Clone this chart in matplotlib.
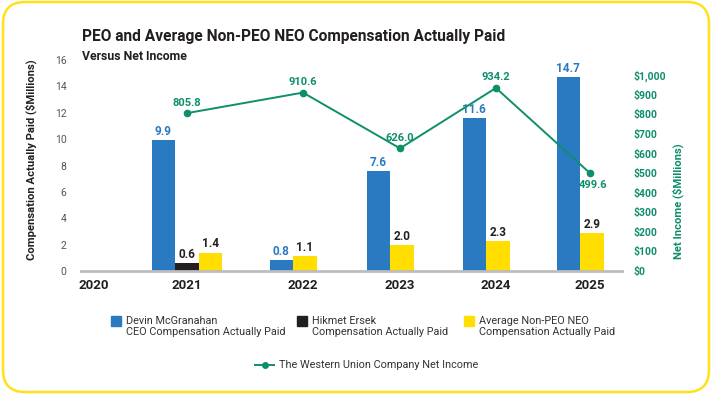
import matplotlib
matplotlib.use('Agg')
import matplotlib.pyplot as plt
from matplotlib.patches import FancyBboxPatch, Rectangle
from matplotlib.lines import Line2D
import numpy as np

# ---------------- data ----------------
years = ['2020', '2021', '2022', '2023', '2024', '2025']
mcgranahan_cap = [np.nan, 9.9, 0.8, 7.6, 11.6, 14.7]
ersek_cap = [np.nan, 0.6, np.nan, np.nan, np.nan, np.nan]
non_peo_avg_cap = [np.nan, 1.4, 1.1, 2.0, 2.3, 2.9]
net_income = [np.nan, 805.8, 910.6, 626.0, 934.2, 499.6]
left_ticks = [0, 2, 4, 6, 8, 10, 12, 14, 16]
right_ticks = [0, 100, 200, 300, 400, 500, 600, 700, 800, 900, 1000]
right_tick_labels = ['$0', '$100', '$200', '$300', '$400', '$500', '$600',
                     '$700', '$800', '$900', '$1,000']
legend_labels = [('Devin McGranahan', 'CEO Compensation Actually Paid'),
                 ('Hikmet Ersek', 'Compensation Actually Paid'),
                 ('Average Non-PEO NEO', 'Compensation Actually Paid')]
line_label = 'The Western Union Company Net Income'

# ---------------- style ----------------
FONT = 'Roboto'
plt.rcParams['font.family'] = [FONT, 'DejaVu Sans']
BLUE = '#2A7AC2'
BLACK = '#231F20'
YELLOW = '#FFDE00'
GREEN = '#0E8E6B'
DARK = '#231F20'
GRAY_TXT = '#555555'
BORDER = '#FFE11B'

fig = plt.figure(figsize=(7.12, 3.95), dpi=100)
W, H = 712, 395

def fx(px):
    return px / W

def fy(py):
    return 1 - py / H

ax = fig.add_axes([fx(81), fy(271), fx(622) - fx(81), (271 - 60) / H])
ax2 = ax.twinx()

# category positions (layout)
cat_x = np.array([0.0, 0.9375, 2.107, 3.085, 4.052, 5.0])
w = 0.237

series = [(mcgranahan_cap, BLUE, BLUE), (ersek_cap, BLACK, DARK),
          (non_peo_avg_cap, YELLOW, DARK)]

for i, c in enumerate(cat_x):
    present = [s for s in series if not np.isnan(s[0][i])]
    n = len(present)
    if n == 0:
        continue
    shift = 0.0 if n == 3 else -0.42 * w
    for k, (vals, col, tcol) in enumerate(present):
        xpos = c + shift + (k - (n - 1) / 2) * w
        v = vals[i]
        ax.bar(xpos, v, width=w, color=col, zorder=2, linewidth=0)
        ax.annotate(f'{v:.1f}', (xpos, v), xytext=(0, 1.5),
                    textcoords='offset points', ha='center', va='bottom',
                    fontsize=8.5, fontweight='bold', color=tcol, family=FONT)

ax.set_xlim(-0.131, 5.323)
ax.set_ylim(0, 16)
ax.set_yticks(left_ticks)
ax.set_yticklabels([str(t) for t in left_ticks])
ax.set_xticks(cat_x)
ax.set_xticklabels(years)
ax.tick_params(axis='x', length=0, pad=6, labelsize=9.5, labelcolor=DARK)
for lab in ax.get_xticklabels():
    lab.set_fontweight('bold')
ax.tick_params(axis='y', length=0, pad=10.5, labelsize=7.5, labelcolor=GRAY_TXT)

for sp in ['top', 'right', 'left']:
    ax.spines[sp].set_visible(False)
ax.spines['bottom'].set_color('#BDBDBD')
ax.spines['bottom'].set_linewidth(2)
ax.spines['bottom'].set_zorder(3)

ax.set_ylabel('Compensation Actually Paid ($Millions)', fontsize=8.1,
              fontweight='bold', color=DARK)
ax.yaxis.set_label_coords(-0.081, 0.526)

# line on secondary axis
ax2.set_ylim(0, 1077)
ax2.set_yticks(right_ticks)
ax2.set_yticklabels(right_tick_labels)
ax2.tick_params(axis='y', length=0, pad=8, labelsize=7.5, labelcolor=GREEN)
for lab in ax2.get_yticklabels():
    lab.set_fontweight('bold')
for sp in ax2.spines.values():
    sp.set_visible(False)
ni = np.array(net_income)
ax2.plot(cat_x, ni, color=GREEN, lw=1.4, marker='o', markersize=4.5, zorder=4)
for i, v in enumerate(ni):
    if np.isnan(v):
        continue
    if i == len(ni) - 1:
        ax2.annotate(f'{v:.1f}', (cat_x[i], v), xytext=(2, -5),
                     textcoords='offset points', ha='center', va='top',
                     fontsize=8, fontweight='bold', color=GREEN)
    else:
        ax2.annotate(f'{v:.1f}', (cat_x[i], v), xytext=(0, 4),
                     textcoords='offset points', ha='center', va='bottom',
                     fontsize=8, fontweight='bold', color=GREEN)
ax2.set_ylabel('Net Income ($Millions)', fontsize=8.1, fontweight='bold',
               color=GREEN, rotation=90)
ax2.yaxis.set_label_coords(1.094, 0.332)

# titles
fig.text(fx(82), fy(37), 'PEO and Average Non-PEO NEO Compensation Actually Paid',
         fontsize=11.2, fontweight='bold', color=DARK, va='center', ha='left')
fig.text(fx(82), fy(56), 'Versus Net Income', fontsize=8.8, fontweight='bold',
         color=DARK, va='center', ha='left')

# legend (manual)
leg_sq = [(111, BLUE), (297, BLACK), (464, YELLOW)]
for (x0, col), (l1, l2) in zip(leg_sq, legend_labels):
    fig.patches.append(Rectangle((fx(x0), fy(326)), fx(10), 10 / H,
                                 transform=fig.transFigure, color=col,
                                 figure=fig))
    fig.text(fx(x0 + 15), fy(320.5), l1, fontsize=7.8, color='#333333',
             va='center', ha='left')
    fig.text(fx(x0 + 15), fy(332), l2, fontsize=7.8, color='#333333',
             va='center', ha='left')

fig.lines.append(Line2D([fx(255), fx(274)], [fy(365), fy(365)],
                        transform=fig.transFigure, color=GREEN, lw=1.4,
                        figure=fig))
fig.lines.append(Line2D([fx(264.5)], [fy(365)], transform=fig.transFigure,
                        color=GREEN, marker='o', markersize=4, lw=0,
                        figure=fig))
fig.text(fx(279), fy(365), line_label, fontsize=7.8, color='#333333',
         va='center', ha='left')

# rounded yellow border
border = FancyBboxPatch((3 / 100, 3 / 100), (W - 6) / 100, (H - 5) / 100,
                        boxstyle='round,pad=0,rounding_size=0.22',
                        transform=fig.dpi_scale_trans, fill=False,
                        edgecolor=BORDER, linewidth=1.8, figure=fig)
fig.patches.append(border)

fig.savefig('out.png', dpi=100)
